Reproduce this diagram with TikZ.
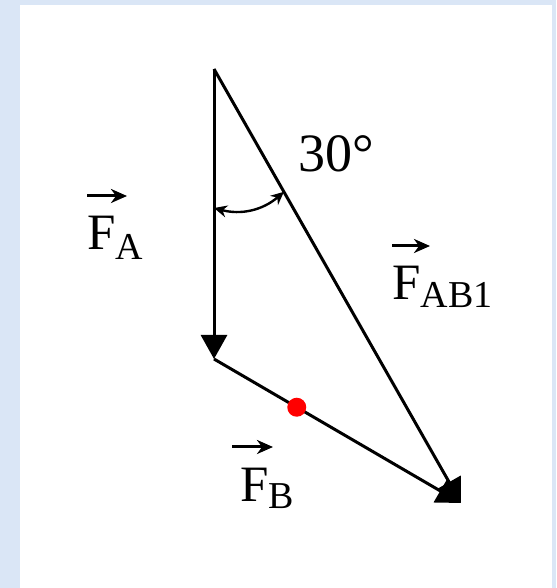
\documentclass[tikz,border=0pt]{standalone}
\usepackage{fontspec}
\setmainfont{Liberation Serif}
\usetikzlibrary{arrows.meta,calc}
\definecolor{bgblue}{RGB}{218,230,246}
\begin{document}
\begin{tikzpicture}[x=1pt,y=1pt,
  force/.style={line width=3pt,-{Triangle[length=24pt,width=26pt]}},
  vecarrow/.style={line width=3pt,-{Stealth[length=16pt,width=14pt,inset=5pt]}},
  anglearc/.style={line width=2.4pt,{Stealth[length=13pt,width=12pt]}-{Stealth[length=13pt,width=12pt]}},
  lbl/.style={inner sep=0pt,anchor=base west,font=\fontsize{51}{51}\selectfont},
  dotmark/.style={circle,fill=red,inner sep=0pt,minimum size=19pt}]
\useasboundingbox (0,0) rectangle (556,588);
\fill[bgblue] (0,0) rectangle (556,588);
\fill[white] (20,0) rectangle (552,583);
\coordinate (A) at (214,519);
\coordinate (B) at (214,229);
\coordinate (C) at (461,85);
\draw[force] (A) -- (B);
\draw[force] (B) -- (C);
\draw[force] (A) -- (C);
\node[dotmark] (dot) at ($(B)!0.335!(C)$) {};
\coordinate (arcL) at ($(A)+(0,-139)$);
\coordinate (arcR) at ($(A)!0.283!(C)$);
\draw[anglearc] (arcL) to[bend right=28] (arcR);
\node[lbl,font=\fontsize{54}{54}\selectfont] (ang) at (298,416) {30°};
\node[lbl] (fa) at (87,338) {F\raisebox{-10pt}{\fontsize{38}{38}\selectfont A}};
\draw[vecarrow] ($(fa.base west)+(0,54)$) -- ++(40,0);
\node[lbl] (fab) at (392,288) {F\raisebox{-8pt}{\fontsize{38}{38}\selectfont AB1}};
\draw[vecarrow] ($(fab.base west)+(0,54)$) -- ++(38,0);
\node[lbl] (fb) at (240,86) {F\raisebox{-7pt}{\fontsize{38}{38}\selectfont B}};
\draw[vecarrow] ($(fb.base west)+(-8,55)$) -- ++(41,0);
\end{tikzpicture}
\end{document}
